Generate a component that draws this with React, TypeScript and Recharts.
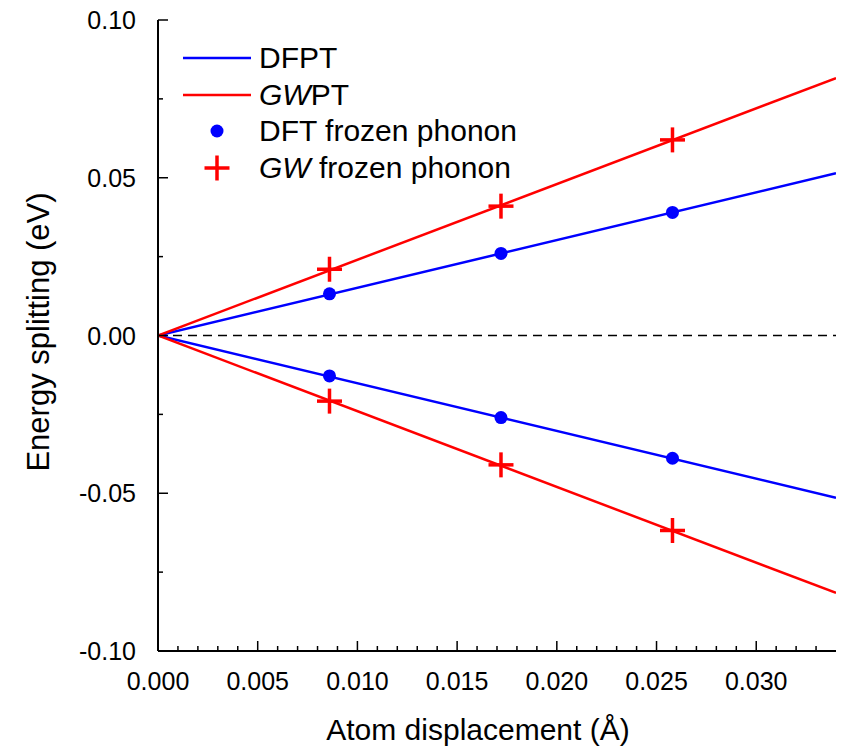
import React from 'react';
import {
  ComposedChart,
  Line,
  Scatter,
  XAxis,
  YAxis,
  ReferenceLine,
} from 'recharts';

// fitted lines run from the origin to the right edge of the plot
const lineDisp = [0, 0.034];
const dfptUpper = [0, 0.0514];
const dfptLower = [0, -0.0514];
const gwptUpper = [0, 0.0816];
const gwptLower = [0, -0.0816];

// frozen phonon calculations
const frozenDisp = [0.0086, 0.0172, 0.0258];
const dftUpper = [0.0132, 0.026, 0.039];
const dftLower = [-0.0128, -0.026, -0.0389];
const gwUpper = [0.021, 0.041, 0.062];
const gwLower = [-0.0208, -0.041, -0.0618];

const xMajorTicks = [0, 0.005, 0.01, 0.015, 0.02, 0.025, 0.03];
const xAllTicks = [
  0, 0.001, 0.002, 0.003, 0.004, 0.005, 0.006, 0.007, 0.008, 0.009,
  0.01, 0.011, 0.012, 0.013, 0.014, 0.015, 0.016, 0.017, 0.018, 0.019,
  0.02, 0.021, 0.022, 0.023, 0.024, 0.025, 0.026, 0.027, 0.028, 0.029,
  0.03, 0.031, 0.032, 0.033,
];
const yMajorTicks = [-0.1, -0.05, 0, 0.05, 0.1];
const yAllTicks = [-0.1, -0.075, -0.05, -0.025, 0, 0.025, 0.05, 0.075, 0.1];

const BLUE = '#0000ff';
const RED = '#ff0000';
const FONT = '"Liberation Sans", Arial, sans-serif';

const toPoints = (xs: number[], ys: number[]) => xs.map((x, i) => ({ x, y: ys[i] }));

const isIn = (list: number[], v: number) => list.some((t) => Math.abs(t - v) < 1e-9);

const XTick = (props: any) => {
  const { x, y, payload, side } = props;
  const major = isIn(xMajorTicks, payload.value);
  const len = major ? 10 : 5;
  const dir = side === 'bottom' ? -1 : 1;
  return (
    <g>
      <line x1={x} y1={y} x2={x} y2={y + dir * len} stroke="#000" strokeWidth={1.5} />
      {side === 'bottom' && major && (
        <text x={x} y={y + 39} textAnchor="middle" fontSize={25} fontFamily={FONT} fill="#000">
          {payload.value.toFixed(3)}
        </text>
      )}
    </g>
  );
};

const YTick = (props: any) => {
  const { x, y, payload, side } = props;
  const major = isIn(yMajorTicks, payload.value);
  const len = major ? 10 : 5;
  const dir = side === 'left' ? 1 : -1;
  return (
    <g>
      <line x1={x} y1={y} x2={x + dir * len} y2={y} stroke="#000" strokeWidth={1.5} />
      {side === 'left' && major && (
        <text x={x - 22} y={y + 9} textAnchor="end" fontSize={25} fontFamily={FONT} fill="#000">
          {payload.value.toFixed(2)}
        </text>
      )}
    </g>
  );
};

const Dot = (props: any) => {
  const { cx, cy } = props;
  return <circle cx={cx} cy={cy} r={6.5} fill={BLUE} />;
};

const Cross = (props: any) => {
  const { cx, cy } = props;
  const h = 12.5;
  return (
    <g stroke={RED} strokeWidth={3.5}>
      <line x1={cx - h} y1={cy} x2={cx + h} y2={cy} />
      <line x1={cx} y1={cy - h} x2={cx} y2={cy + h} />
    </g>
  );
};

const legendRows = [
  { kind: 'line', color: BLUE, label: <>DFPT</> },
  { kind: 'line', color: RED, label: <><i>GW</i>PT</> },
  { kind: 'dot', color: BLUE, label: <>DFT frozen phonon</> },
  { kind: 'cross', color: RED, label: <><i>GW</i> frozen phonon</> },
];

const LegendBox = () => (
  <div style={{ fontFamily: FONT, fontSize: 30, color: '#000' }}>
    {legendRows.map((r, i) => (
      <div key={i} style={{ display: 'flex', alignItems: 'center', height: 36.5 }}>
        <svg width={76} height={36} style={{ flex: 'none' }}>
          {r.kind === 'line' && <line x1={0} y1={18} x2={68} y2={18} stroke={r.color} strokeWidth={2.5} />}
          {r.kind === 'dot' && <circle cx={34} cy={18} r={6.5} fill={r.color} />}
          {r.kind === 'cross' && (
            <g stroke={r.color} strokeWidth={3.5}>
              <line x1={21.5} y1={18} x2={46.5} y2={18} />
              <line x1={34} y1={5.5} x2={34} y2={30.5} />
            </g>
          )}
        </svg>
        <span style={{ whiteSpace: 'nowrap' }}>{r.label}</span>
      </div>
    ))}
  </div>
);

export default function App() {
  return (
    <div style={{ position: 'absolute', left: 0, top: 0, width: 851, height: 749, background: '#fff' }}>
      <ComposedChart
        width={851}
        height={749}
        margin={{ top: 20, right: 15, bottom: 38, left: 58 }}
      >
        <XAxis
          xAxisId={0}
          dataKey="x"
          type="number"
          domain={[0, 0.034]}
          ticks={xAllTicks}
          interval={0}
          allowDataOverflow
          height={60}
          tickSize={0}
          tickMargin={0}
          tickLine={false}
          axisLine={{ stroke: '#000', strokeWidth: 2 }}
          tick={<XTick side="bottom" />}
        />
        <XAxis
          xAxisId="top"
          orientation="top"
          type="number"
          domain={[0, 0.034]}
          ticks={xAllTicks}
          interval={0}
          allowDataOverflow
          height={0}
          tickSize={0}
          tickMargin={0}
          tickLine={false}
          axisLine={{ stroke: '#000', strokeWidth: 2 }}
          tick={<XTick side="top" />}
        />
        <YAxis
          yAxisId={0}
          type="number"
          domain={[-0.1, 0.1]}
          ticks={yAllTicks}
          interval={0}
          allowDataOverflow
          width={100}
          tickSize={0}
          tickMargin={0}
          tickLine={false}
          axisLine={{ stroke: '#000', strokeWidth: 2 }}
          tick={<YTick side="left" />}
        />
        <YAxis
          yAxisId="right"
          orientation="right"
          type="number"
          domain={[-0.1, 0.1]}
          ticks={yAllTicks}
          interval={0}
          allowDataOverflow
          width={0}
          tickSize={0}
          tickMargin={0}
          tickLine={false}
          axisLine={{ stroke: '#000', strokeWidth: 2 }}
          tick={<YTick side="right" />}
        />
        <ReferenceLine y={0} stroke="#000" strokeWidth={1.5} strokeDasharray="9 6" />
        <Line data={toPoints(lineDisp, dfptUpper)} dataKey="y" type="linear" stroke={BLUE} strokeWidth={2.5} dot={false} isAnimationActive={false} />
        <Line data={toPoints(lineDisp, dfptLower)} dataKey="y" type="linear" stroke={BLUE} strokeWidth={2.5} dot={false} isAnimationActive={false} />
        <Line data={toPoints(lineDisp, gwptUpper)} dataKey="y" type="linear" stroke={RED} strokeWidth={2.5} dot={false} isAnimationActive={false} />
        <Line data={toPoints(lineDisp, gwptLower)} dataKey="y" type="linear" stroke={RED} strokeWidth={2.5} dot={false} isAnimationActive={false} />
        <Scatter data={toPoints(frozenDisp, dftUpper)} dataKey="y" shape={<Dot />} isAnimationActive={false} />
        <Scatter data={toPoints(frozenDisp, dftLower)} dataKey="y" shape={<Dot />} isAnimationActive={false} />
        <Scatter data={toPoints(frozenDisp, gwUpper)} dataKey="y" shape={<Cross />} isAnimationActive={false} />
        <Scatter data={toPoints(frozenDisp, gwLower)} dataKey="y" shape={<Cross />} isAnimationActive={false} />
      </ComposedChart>
      <div style={{ position: 'absolute', left: 183, top: 40 }}>
        <LegendBox />
      </div>
      <svg
        width={851}
        height={749}
        style={{ position: 'absolute', left: 0, top: 0, pointerEvents: 'none' }}
      >
        <text x={478} y={740} textAnchor="middle" fontSize={30} fontFamily={FONT} fill="#000">
          Atom displacement (Å)
        </text>
        <text
          x={0}
          y={0}
          transform="translate(49,332) rotate(-90)"
          textAnchor="middle"
          fontSize={31}
          fontFamily={FONT}
          fill="#000"
        >
          Energy splitting (eV)
        </text>
      </svg>
    </div>
  );
}
